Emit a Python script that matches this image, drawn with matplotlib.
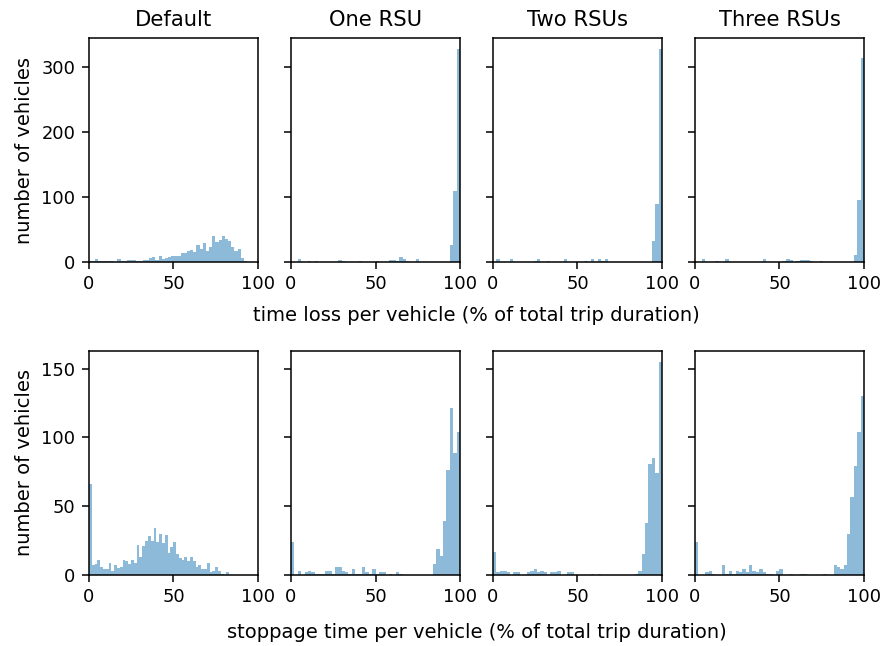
import numpy as np
import matplotlib
matplotlib.use("Agg")
import matplotlib.pyplot as plt

scenarios = ["Default", "One RSU", "Two RSUs", "Three RSUs"]

# upper end of the data range in each panel (lower end is 0)
timeloss_range_max = [93.5, 100, 100, 100]
stoppage_range_max = [83.0, 100, 100, 100]

# counts per bin (50 bins per panel) - time loss
timeloss_default = [2, 2, 5, 2, 2, 1, 2, 2, 0, 5, 2, 2, 3, 3, 3, 1, 2, 3, 3, 6,
                    8, 3, 9, 5, 6, 8, 9, 9, 9, 14, 14, 17, 19, 16, 26, 20, 29, 17, 23, 40,
                    31, 34, 40, 36, 33, 23, 17, 20, 6, 2]
timeloss_one = [0, 0, 5, 0, 0, 2, 0, 2, 0, 0, 0, 0, 0, 0, 3, 2, 0, 0, 0, 0,
                2, 0, 0, 0, 0, 2, 0, 0, 0, 3, 3, 1, 7, 5, 2, 0, 0, 5, 0, 0,
                0, 0, 0, 0, 0, 0, 0, 26, 109, 328]
timeloss_two = [0, 4, 0, 0, 0, 4, 0, 0, 0, 0, 0, 0, 2, 4, 0, 0, 2, 0, 0, 0,
                0, 4, 0, 0, 0, 0, 0, 2, 0, 4, 0, 4, 2, 4, 0, 0, 0, 0, 0, 0,
                0, 0, 0, 0, 0, 0, 0, 32, 89, 328]
timeloss_three = [0, 0, 5, 0, 0, 0, 2, 0, 0, 4, 0, 0, 0, 0, 0, 0, 0, 0, 0, 0,
                  4, 0, 0, 0, 0, 0, 2, 5, 3, 0, 2, 3, 3, 3, 2, 0, 0, 2, 0, 0,
                  0, 0, 0, 0, 0, 0, 0, 11, 95, 313]

# counts per bin (50 bins per panel) - stoppage time
stoppage_default = [66, 7, 8, 11, 6, 4, 4, 9, 3, 7, 5, 6, 11, 10, 8, 11, 9, 22, 13, 21,
                    25, 28, 25, 34, 24, 30, 23, 29, 16, 20, 24, 15, 12, 11, 13, 10, 13, 10, 6, 7,
                    4, 4, 9, 2, 3, 6, 3, 1, 0, 2]
stoppage_one = [24, 0, 3, 0, 2, 3, 2, 1, 1, 1, 3, 3, 1, 6, 6, 3, 2, 1, 4, 1,
                1, 6, 2, 1, 4, 1, 2, 2, 0, 1, 0, 2, 1, 0, 0, 0, 0, 0, 0, 0,
                0, 0, 8, 19, 14, 39, 76, 121, 89, 104]
stoppage_two = [17, 2, 3, 3, 2, 0, 2, 2, 0, 0, 2, 3, 4, 2, 3, 2, 0, 2, 2, 3,
                0, 0, 2, 2, 0, 0, 0, 0, 0, 1, 0, 1, 0, 0, 0, 0, 0, 0, 0, 0,
                0, 0, 1, 3, 15, 38, 81, 85, 74, 155]
stoppage_three = [24, 0, 0, 2, 3, 1, 0, 0, 7, 1, 3, 1, 3, 2, 4, 2, 7, 3, 2, 4,
                  2, 1, 1, 0, 3, 4, 0, 0, 1, 0, 0, 1, 1, 0, 0, 0, 0, 0, 1, 0,
                  0, 7, 6, 4, 7, 30, 57, 79, 104, 130]

timeloss = [timeloss_default, timeloss_one, timeloss_two, timeloss_three]
stoppage = [stoppage_default, stoppage_one, stoppage_two, stoppage_three]

W, H, DPI = 884, 646, 138.125
fig, axes = plt.subplots(2, 4, figsize=(W / DPI, H / DPI), dpi=DPI, sharey="row")
fig.subplots_adjust(left=89 / W, right=864 / W, top=1 - 38 / H, bottom=1 - 575 / H,
                    wspace=33 / 169, hspace=89 / 224)

for row, (data, rmax) in enumerate([(timeloss, timeloss_range_max),
                                     (stoppage, stoppage_range_max)]):
    for col in range(4):
        ax = axes[row, col]
        counts = np.asarray(data[col], dtype=float)
        edges = np.linspace(0, rmax[col], len(counts) + 1)
        ax.hist(edges[:-1], bins=edges, weights=counts, alpha=0.5, color="C0")
        ax.set_xlim(0, 100)
        ax.set_xticks([0, 50, 100])
        if row == 0:
            ax.set_title(scenarios[col], fontsize=11)
        if col == 0:
            ax.set_ylabel("number of vehicles", fontsize=10.2)
        ax.tick_params(labelsize=9.3)

axes[0, 0].set_yticks([0, 100, 200, 300])
axes[1, 0].set_yticks([0, 50, 100, 150])

fig.text((89 + 864) / 2 / W, 1 - 315 / H,
         "time loss per vehicle (% of total trip duration)",
         ha="center", va="center", fontsize=10.2)
fig.text((89 + 864) / 2 / W, 1 - 633 / H,
         "stoppage time per vehicle (% of total trip duration)",
         ha="center", va="center", fontsize=10.2)

fig.savefig("out.png", dpi=DPI)
